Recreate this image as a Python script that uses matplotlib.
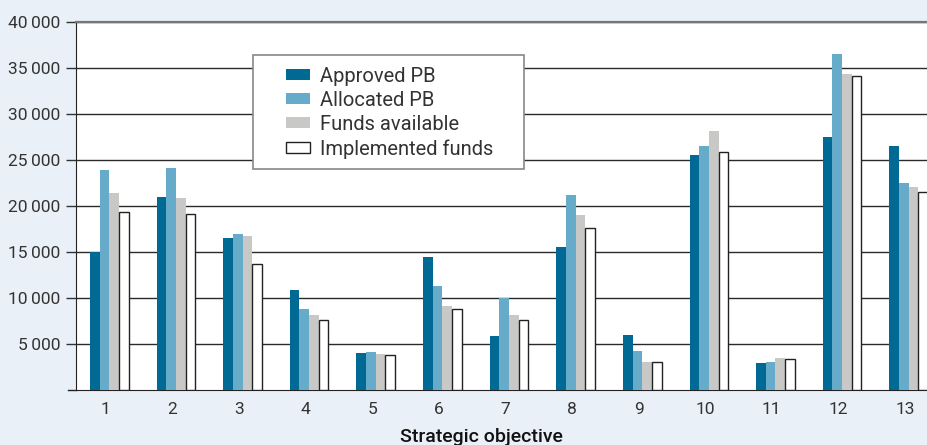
import matplotlib
matplotlib.use("Agg")
import matplotlib.pyplot as plt
from matplotlib.patches import Rectangle
import numpy as np

objectives = ["1", "2", "3", "4", "5", "6", "7", "8", "9", "10", "11", "12", "13"]
approved_pb = [15000, 21000, 16500, 10900, 4000, 14450, 5900, 15500, 5980, 25500, 2970, 27500, 26500]
allocated_pb = [23950, 24150, 17000, 8850, 4130, 11300, 9950, 21250, 4240, 26500, 3040, 36500, 22450]
funds_available = [21450, 20850, 16700, 8100, 3920, 9080, 8100, 19000, 3080, 28100, 3480, 34400, 22050]
implemented_funds = [19300, 19150, 13750, 7620, 3780, 8770, 7620, 17650, 3080, 25850, 3330, 34150, 21550]
y_ticks = [5000, 10000, 15000, 20000, 25000, 30000, 35000, 40000]
y_tick_labels = ["5\u2009000", "10\u2009000", "15\u2009000", "20\u2009000",
                 "25\u2009000", "30\u2009000", "35\u2009000", "40\u2009000"]

plt.rcParams["font.family"] = ["Roboto", "DejaVu Sans"]

W, H = 928, 445
bg = "#e9f0f7"
fig = plt.figure(figsize=(W / 100, H / 100), dpi=100, facecolor=bg)
# axes runs past the right edge of the figure, as in the reference
ax_l, ax_t, ax_w, ax_h = 76, 22, 866, 368
ax = fig.add_axes([ax_l / W, 1 - (ax_t + ax_h) / H, ax_w / W, ax_h / H])
ax.set_facecolor("white")


def to_axes(px, py):
    # figure pixel (from top-left) -> axes fraction
    return (px - ax_l) / ax_w, (ax_t + ax_h - py) / ax_h


x = np.arange(1, len(objectives) + 1)
w = 0.145
series = [
    (approved_pb, "Approved PB", "#006a94", "#006a94"),
    (allocated_pb, "Allocated PB", "#66abc9", "#66abc9"),
    (funds_available, "Funds available", "#c8c8c6", "#c8c8c6"),
    (implemented_funds, "Implemented funds", "white", "#222222"),
]
for i, (vals, label, fc, ec) in enumerate(series):
    lw = 1.0 if fc == "white" else 0
    ax.bar(x + (i - 1.5) * w, vals, width=w, color=fc, edgecolor=ec,
           linewidth=lw, label=label, zorder=3)

ax.set_xlim(0.5, 13.5)
ax.set_ylim(0, 40000)
ax.set_yticks(y_ticks)
ax.set_yticklabels(y_tick_labels)
ax.set_xticks(x - 0.055)
ax.set_xticklabels(objectives)
ax.yaxis.grid(True, color="#2a2a2a", linewidth=1.0, zorder=1)
ax.tick_params(axis="y", length=7, width=1, color="#333333", labelsize=12.5,
               labelcolor="#333333", pad=4)
ax.tick_params(axis="x", length=0, labelsize=12.5, labelcolor="#333333", pad=9)

ax.spines["right"].set_visible(False)
ax.spines["top"].set_color("#777777")
ax.spines["top"].set_linewidth(1.6)
ax.spines["left"].set_color("#222222")
ax.spines["bottom"].set_color("#222222")

# zero level tick stub
ax.plot([-0.009, 0], [0, 0], transform=ax.transAxes, color="#222222",
        linewidth=1, clip_on=False)

# legend frame drawn by hand so the padding matches
rx0, ry0 = to_axes(253, 169)
rx1, ry1 = to_axes(524, 55)
ax.add_patch(Rectangle((rx0, ry0), rx1 - rx0, ry1 - ry0, transform=ax.transAxes,
                       facecolor="white", edgecolor="#888888", linewidth=1.2,
                       zorder=4))
lx, ly = to_axes(286, 67)
leg = ax.legend(loc="upper left", bbox_to_anchor=(lx, ly), fontsize=14.5,
                frameon=False, handlelength=1.2, handleheight=0.45,
                labelspacing=0.25, borderpad=0, borderaxespad=0,
                handletextpad=0.5)
leg.set_zorder(5)
for t in leg.get_texts():
    t.set_color("#333333")

fig.text(481 / W, 1 - 437 / H, "Strategic objective", ha="center",
         va="center", fontsize=14, fontweight="medium", color="#111111")

fig.savefig("out.png", dpi=100, facecolor=bg)
